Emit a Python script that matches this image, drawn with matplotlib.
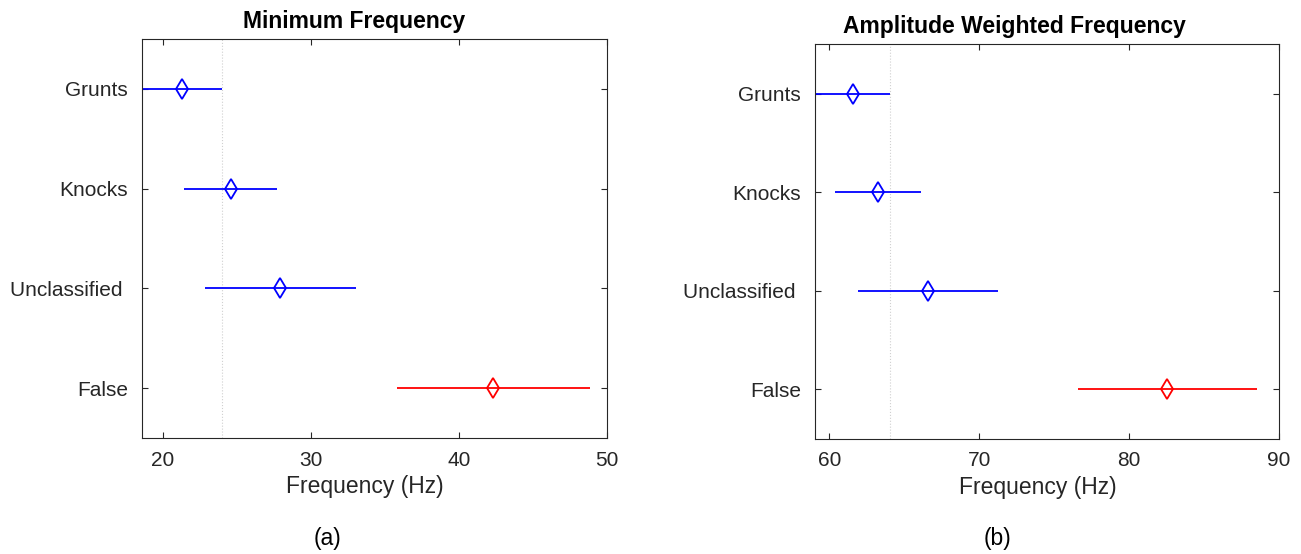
import matplotlib.pyplot as plt

plt.rcParams['font.family'] = ['Liberation Sans', 'DejaVu Sans']

# groups, top to bottom
groups = ['Grunts', 'Knocks', 'Unclassified ', 'False']
colors = ['blue', 'blue', 'blue', 'red']

# minimum frequency: group means and half-width of the comparison intervals
min_mean = [21.32, 24.59, 27.95, 42.32]
min_ci = [2.71, 3.13, 5.12, 6.50]

# amplitude weighted frequency
awf_mean = [61.55, 63.24, 66.57, 82.56]
awf_ci = [2.51, 2.88, 4.69, 5.95]

fig = plt.figure(figsize=(13.01, 5.54), dpi=100)
ax1 = fig.add_axes([142/1301, 116/554, 465/1301, 399/554])
ax2 = fig.add_axes([815/1301, 115.3/554, 464/1301, 394.4/554])


def draw_panel(ax, means, cis, title, xmax, xticks, tag, title_x, tag_x):
    pos = range(1, len(means) + 1)
    for y, m, c, col in zip(pos, means, cis, colors):
        ax.plot([m - c, m + c], [y, y], color=col, lw=1.3, solid_capstyle='butt')
        ax.plot(m, y, marker='d', ms=10.5, mfc='none', mec=col, mew=1.3)
    # dotted line at the upper limit of the first group
    ax.axvline(means[0] + cis[0], color='#d0d0d0', lw=0.8, ls=':', zorder=0)
    ax.set_xlim(means[0] - cis[0], xmax)
    ax.set_ylim(4.5, 0.5)
    ax.set_yticks(list(pos))
    ax.set_yticklabels(groups)
    ax.set_xticks(xticks)
    ax.tick_params(direction='in', length=4, width=0.8, colors='#262626',
                   top=True, right=True, labelsize=15, pad=9)
    ax.tick_params(axis='y', pad=10)
    for s in ax.spines.values():
        s.set_color('#262626')
        s.set_linewidth(0.8)
    ax.set_title(title, fontsize=16.5, fontweight='bold', pad=8, x=title_x)
    ax.set_xlabel('Frequency (Hz)', fontsize=16.5, color='#262626', labelpad=4)
    ax.xaxis.label.set_x(0.48)
    ax.text(tag_x, -0.252, tag, transform=ax.transAxes, ha='center', va='center',
            fontsize=16.5)


draw_panel(ax1, min_mean, min_ci, 'Minimum Frequency', 50, [20, 30, 40, 50],
           '(a)', 0.457, 0.398)
draw_panel(ax2, awf_mean, awf_ci, 'Amplitude Weighted Frequency', 90, [60, 70, 80, 90],
           '(b)', 0.429, 0.394)

fig.savefig('out.png', dpi=100)
